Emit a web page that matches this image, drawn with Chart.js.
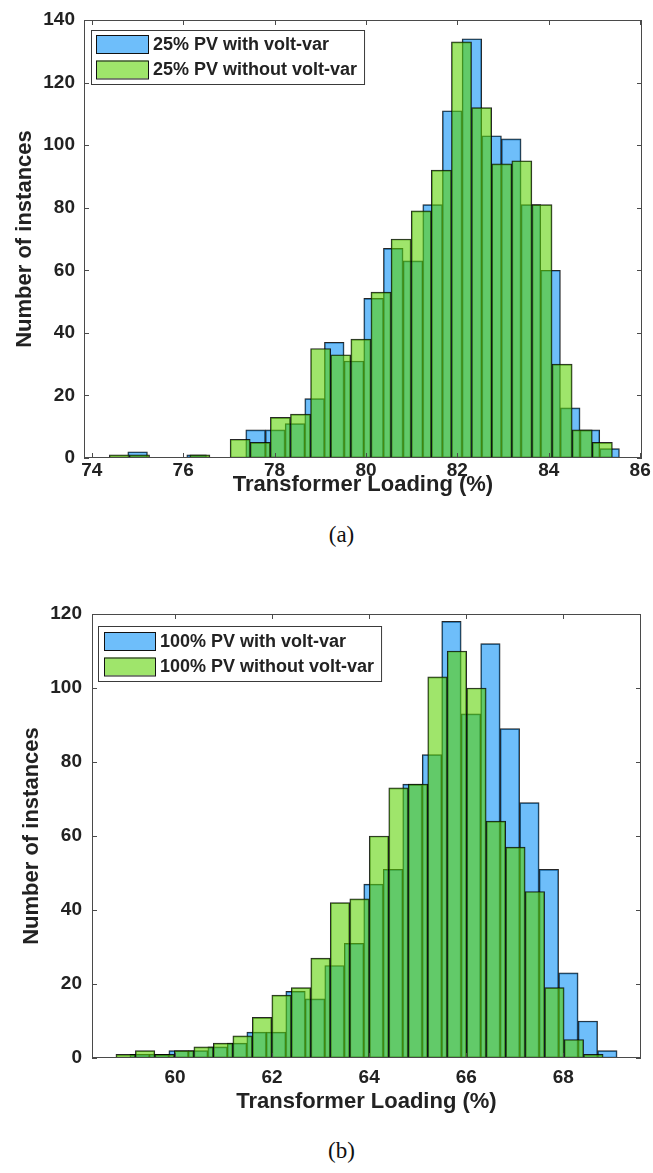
<!DOCTYPE html>
<html>
<head>
<meta charset="utf-8">
<script src="https://cdn.jsdelivr.net/npm/chart.js@4.4.1/dist/chart.umd.min.js"></script>
<style>
  body { margin: 0; background: #fff; }
  #page { position: relative; width: 653px; height: 1173px; }
  .panel { position: absolute; left: 0; }
  .cap { position: absolute; left: 0; width: 683px; text-align: center;
         font-family: 'Liberation Serif', 'Times New Roman', serif; font-size: 23px; color: #111; }
</style>
</head>
<body>
<div id="page">
  <canvas id="chartA" class="panel" style="top:0px" width="653" height="510"></canvas>
  <div class="cap" style="top:522px">(a)</div>
  <canvas id="chartB" class="panel" style="top:570px" width="653" height="550"></canvas>
  <div class="cap" style="top:1138px">(b)</div>
</div>
<script>
// ---- data: (a) 25% PV, bin centres and counts ----
const binsA_with = [75.003, 75.433, 75.864, 76.294, 76.724, 77.155, 77.585, 78.015, 78.446, 78.876,
    79.306, 79.737, 80.167, 80.597, 81.028, 81.458, 81.888, 82.318, 82.749, 83.179,
    83.609, 84.040, 84.470, 84.900, 85.331]
const countsA_with = [2, 0, 0, 1, 0, 0, 9, 9, 11, 19,
    37, 31, 51, 67, 63, 81, 111, 134, 103, 102,
    81, 60, 16, 9, 3]
const binsA_without = [74.605, 75.045, 75.486, 75.926, 76.366, 76.807, 77.247, 77.687, 78.128, 78.568,
    79.008, 79.448, 79.889, 80.329, 80.769, 81.210, 81.650, 82.090, 82.531, 82.971,
    83.411, 83.852, 84.292, 84.732, 85.172]
const countsA_without = [1, 1, 0, 0, 1, 0, 6, 5, 13, 14,
    35, 33, 38, 53, 70, 79, 92, 133, 112, 94,
    95, 81, 30, 9, 5]
const xTicksA = [74, 76, 78, 80, 82, 84, 86]
const yTicksA = [0, 20, 40, 60, 80, 100, 120, 140]

// ---- data: (b) 100% PV ----
const binsB_with = [59.271, 59.672, 60.074, 60.475, 60.877, 61.278, 61.680, 62.081, 62.483, 62.884,
    63.286, 63.687, 64.089, 64.490, 64.892, 65.293, 65.695, 66.096, 66.498, 66.899,
    67.301, 67.702, 68.104, 68.505, 68.907]
const countsB_with = [1, 1, 2, 2, 3, 4, 7, 7, 18, 16,
    25, 31, 47, 51, 74, 82, 118, 93, 112, 89,
    69, 51, 23, 10, 2]
const binsB_without = [58.983, 59.384, 59.786, 60.187, 60.589, 60.990, 61.392, 61.793, 62.195, 62.596,
    62.998, 63.399, 63.801, 64.202, 64.604, 65.005, 65.407, 65.808, 66.210, 66.611,
    67.013, 67.414, 67.816, 68.217, 68.619]
const countsB_without = [1, 2, 1, 2, 3, 4, 6, 11, 17, 19,
    27, 42, 43, 60, 73, 74, 103, 110, 100, 64,
    57, 45, 19, 5, 1]
const xTicksB = [60, 62, 64, 66, 68]
const yTicksB = [0, 20, 40, 60, 80, 100, 120]

const BLUE = 'rgba(13,147,247,0.6)'
const GREEN = 'rgba(90,210,0,0.58)'
const EDGE = 'rgba(0,0,0,0.85)'
const FONT = "'Liberation Sans', Arial, Helvetica, sans-serif"
const TEXT = '#222'

function toPoints(bins, counts) {
    return bins.map((b, i) => ({x: b, y: counts[i]}))
}

// matlab style box with inward ticks on all four sides
const frame = {
    id: 'frame',
    afterDatasetsDraw(chart) {
        let ctx = chart.ctx
        let a = chart.chartArea
        let sx = chart.scales.x
        let sy = chart.scales.y
        ctx.save()
        ctx.strokeStyle = '#4a4a4a'
        ctx.lineWidth = 1
        ctx.beginPath()
        sx.ticks.forEach(t => {
            let px = Math.round(sx.getPixelForValue(t.value)) + 0.5
            ctx.moveTo(px, a.bottom); ctx.lineTo(px, a.bottom - 5)
            ctx.moveTo(px, a.top); ctx.lineTo(px, a.top + 5)
        })
        sy.ticks.forEach(t => {
            let py = Math.round(sy.getPixelForValue(t.value)) + 0.5
            ctx.moveTo(a.left, py); ctx.lineTo(a.left + 5, py)
            ctx.moveTo(a.right, py); ctx.lineTo(a.right - 5, py)
        })
        ctx.stroke()
        ctx.strokeRect(a.left + 0.5, a.top + 0.5, a.right - a.left - 1, a.bottom - a.top - 1)
        ctx.restore()
    }
}

// legend box drawn inside the plot, top-left
const boxLegend = {
    id: 'boxLegend',
    afterDraw(chart, args, opts) {
        let ctx = chart.ctx
        let a = chart.chartArea
        let x0 = a.left + opts.dx
        let y0 = a.top + opts.dy
        ctx.save()
        ctx.font = 'bold 18px ' + FONT
        let items = chart.data.datasets
        let textX = x0 + opts.swatchX + opts.swatchW + 5
        let widest = Math.max(...items.map(d => ctx.measureText(d.label).width))
        let w = textX + widest + 7 - x0
        ctx.fillStyle = '#fff'
        ctx.fillRect(x0, y0, w, opts.h)
        ctx.strokeStyle = '#3a3a3a'
        ctx.lineWidth = 1
        ctx.strokeRect(x0 + 0.5, y0 + 0.5, w, opts.h)
        items.forEach((d, i) => {
            let cy = y0 + opts.rows[i]
            ctx.fillStyle = d.backgroundColor
            ctx.fillRect(x0 + opts.swatchX, cy - 9, opts.swatchW, 18)
            ctx.strokeStyle = '#111'
            ctx.strokeRect(x0 + opts.swatchX + 0.5, cy - 9 + 0.5, opts.swatchW, 18)
            ctx.fillStyle = TEXT
            ctx.textBaseline = 'middle'
            ctx.fillText(d.label, textX, cy + 1)
        })
        ctx.restore()
    }
}

function makeChart(id, p) {
    let dsWith = {
        label: p.labels[0],
        data: toPoints(p.binsWith, p.countsWith),
        xAxisID: 'x',
        backgroundColor: BLUE,
        borderColor: EDGE,
        borderWidth: 1,
        borderSkipped: false,
        order: 1
    }
    let dsWithout = {
        label: p.labels[1],
        data: toPoints(p.binsWithout, p.countsWithout),
        xAxisID: 'x2',
        backgroundColor: GREEN,
        borderColor: EDGE,
        borderWidth: 1,
        borderSkipped: false,
        order: 0
    }
    let xBase = {
        type: 'linear',
        min: p.xMin,
        max: p.xMax,
        offset: false,
        grid: {display: false, drawTicks: false},
        border: {display: false}
    }
    new Chart(document.getElementById(id), {
        type: 'bar',
        data: {datasets: [dsWith, dsWithout]},
        options: {
            responsive: false,
            animation: false,
            grouped: false,
            barPercentage: 1,
            categoryPercentage: 1,
            layout: {padding: {top: p.padTop, right: p.padRight, left: 0, bottom: 0}},
            scales: {
                x: Object.assign({}, xBase, {
                    position: 'bottom',
                    afterBuildTicks: s => { s.ticks = p.xTicks.map(v => ({value: v})) },
                    afterFit: s => { s.height = p.xHeight; s.paddingLeft = 0; s.paddingRight = 0 },
                    ticks: {color: TEXT, padding: p.xPad, maxRotation: 0, font: {family: FONT, size: 19, weight: 'bold'}},
                    title: {display: true, text: 'Transformer Loading (%)', color: TEXT,
                        padding: {top: 0, bottom: p.xTitlePad}, font: {family: FONT, size: 22, weight: 'bold'}}
                }),
                x2: Object.assign({}, xBase, {
                    display: false
                }),
                y: {
                    type: 'linear',
                    min: 0,
                    max: p.yTicks[p.yTicks.length - 1],
                    afterBuildTicks: s => { s.ticks = p.yTicks.map(v => ({value: v})) },
                    afterFit: s => { s.width = p.yWidth; s.paddingTop = 0; s.paddingBottom = 0 },
                    grid: {display: false, drawTicks: false},
                    border: {display: false},
                    ticks: {color: TEXT, padding: p.yPad, font: {family: FONT, size: 19, weight: 'bold'}},
                    title: {display: true, text: 'Number of instances', color: TEXT,
                        padding: {top: p.yTitlePad, bottom: 0}, font: {family: FONT, size: 22, weight: 'bold'}}
                }
            },
            plugins: {
                legend: {display: false},
                tooltip: {enabled: false},
                boxLegend: p.legend
            }
        },
        plugins: [frame, boxLegend]
    })
}

makeChart('chartA', {
    labels: ['25% PV with volt-var', '25% PV without volt-var'],
    binsWith: binsA_with, countsWith: countsA_with,
    binsWithout: binsA_without, countsWithout: countsA_without,
    xTicks: xTicksA, yTicks: yTicksA,
    xMin: 73.83, xMax: 86.04,
    padTop: 20, padRight: 11, xHeight: 52, yWidth: 84, yPad: 9, yTitlePad: 12,
    xPad: 1, xTitlePad: 12,
    legend: {dx: 7, dy: 10, h: 54, swatchX: 5, swatchW: 52, rows: [14, 39.5]}
})

makeChart('chartB', {
    labels: ['100% PV with volt-var', '100% PV without volt-var'],
    binsWith: binsB_with, countsWith: countsB_with,
    binsWithout: binsB_without, countsWithout: countsB_without,
    xTicks: xTicksB, yTicks: yTicksB,
    xMin: 58.29, xMax: 69.6,
    padTop: 44, padRight: 12, xHeight: 62, yWidth: 92, yPad: 10, yTitlePad: 19,
    xPad: 8, xTitlePad: 5,
    legend: {dx: 6, dy: 12, h: 55, swatchX: 6, swatchW: 51, rows: [15, 40.5]}
})
</script>
</body>
</html>
